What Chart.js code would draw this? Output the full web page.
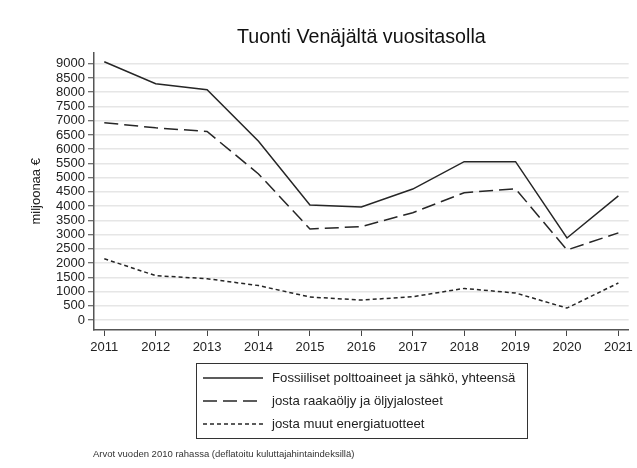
<!DOCTYPE html>
<html>
<head>
<meta charset="utf-8">
<script src="https://cdn.jsdelivr.net/npm/chart.js@4/dist/chart.umd.min.js"></script>
<style>
html,body{margin:0;padding:0;background:#fff;}
#wrap{width:637px;height:468px;position:relative;}
</style>
</head>
<body>
<div id="wrap"><canvas id="c" width="637" height="468"></canvas></div>
<script>
const years = [2011, 2012, 2013, 2014, 2015, 2016, 2017, 2018, 2019, 2020, 2021];
const totalFossil = [9070, 8300, 8090, 6280, 4040, 3970, 4600, 5560, 5560, 2880, 4360];
const crudeOil = [6930, 6750, 6620, 5130, 3200, 3280, 3770, 4470, 4610, 2460, 3060];
const otherEnergy = [2150, 1560, 1450, 1210, 810, 700, 820, 1110, 950, 420, 1300];
const seriesLabels = ['Fossiiliset polttoaineet ja sähkö, yhteensä', 'josta raakaöljy ja öljyjalosteet', 'josta muut energiatuotteet'];
const yTicks = [0, 500, 1000, 1500, 2000, 2500, 3000, 3500, 4000, 4500, 5000, 5500, 6000, 6500, 7000, 7500, 8000, 8500, 9000];
const titleText = 'Tuonti Venäjältä vuositasolla';
const yTitle = 'miljoonaa €';
const footnote = 'Arvot vuoden 2010 rahassa (deflatoitu kuluttajahintaindeksillä)';

const FONT = 'Liberation Sans, Arial, sans-serif';
const lineColor = '#262626';
const dashes = [[], [14, 6], [4, 3]];

function pts(arr){ return years.map((y,i)=>({x:y, y:arr[i]})); }

const legendPlugin = {
  id: 'boxLegend',
  afterDraw(chart){
    const ctx = chart.ctx;
    ctx.save();
    ctx.strokeStyle = '#333';
    ctx.lineWidth = 1;
    ctx.strokeRect(196.5, 363.5, 331, 75);
    const rows = [378, 401, 424];
    chart.data.datasets.forEach((ds, i) => {
      ctx.beginPath();
      ctx.setLineDash(ds.borderDash || []);
      ctx.strokeStyle = lineColor;
      ctx.lineWidth = 1.5;
      ctx.moveTo(203, rows[i]);
      ctx.lineTo(263, rows[i]);
      ctx.stroke();
      ctx.setLineDash([]);
      ctx.fillStyle = '#222';
      ctx.font = '13.2px ' + FONT;
      ctx.textBaseline = 'middle';
      ctx.textAlign = 'left';
      ctx.fillText(ds.label, 272, rows[i]);
    });
    ctx.font = '9.5px ' + FONT;
    ctx.fillStyle = '#333';
    ctx.textBaseline = 'middle';
    ctx.fillText(footnote, 93, 454);
    ctx.restore();
  }
};

new Chart(document.getElementById('c'), {
  type: 'line',
  data: {
    datasets: [
      {label: seriesLabels[0], data: pts(totalFossil), borderDash: dashes[0]},
      {label: seriesLabels[1], data: pts(crudeOil), borderDash: dashes[1]},
      {label: seriesLabels[2], data: pts(otherEnergy), borderDash: dashes[2]}
    ].map(d => Object.assign(d, {borderColor: lineColor, borderWidth: 1.5, pointRadius: 0, fill: false, tension: 0}))
  },
  options: {
    responsive: false,
    animation: false,
    devicePixelRatio: 1,
    layout: {padding: {left: 0, right: 8, top: 0, bottom: 113}},
    plugins: {
      legend: {display: false},
      tooltip: {enabled: false},
      title: {
        display: true, text: titleText, fullSize: false,
        color: '#111', font: {family: FONT, size: 19.7, weight: 'normal'},
        padding: {top: 26, bottom: 3}
      }
    },
    scales: {
      x: {
        type: 'linear', min: 2010.8, max: 2021.2,
        afterBuildTicks(s){ s.ticks = years.map(v => ({value: v})); },
        afterFit(s){ s.height = 25; },
        ticks: {color: '#222', font: {family: FONT, size: 13}, padding: 4, maxRotation: 0, autoSkip: false, callback: v => String(v)},
        grid: {drawOnChartArea: false, tickLength: 6, tickColor: '#444', tickWidth: 1},
        border: {color: '#555', width: 1.5}
      },
      y: {
        min: -350, max: 9390,
        afterBuildTicks(s){ s.ticks = yTicks.map(v => ({value: v})); },
        afterFit(s){ s.width = 94; },
        ticks: {color: '#222', font: {family: FONT, size: 13}, padding: 3, autoSkip: false, callback: v => String(v)},
        grid: {color: '#e6e6e6', lineWidth: 1.5, tickLength: 6, tickColor: '#444', tickWidth: 1},
        border: {color: '#555', width: 1.5},
        title: {display: true, text: yTitle, color: '#222', font: {family: FONT, size: 13}, padding: {top: 29, bottom: 0}}
      }
    }
  },
  plugins: [legendPlugin]
});
</script>
</body>
</html>
